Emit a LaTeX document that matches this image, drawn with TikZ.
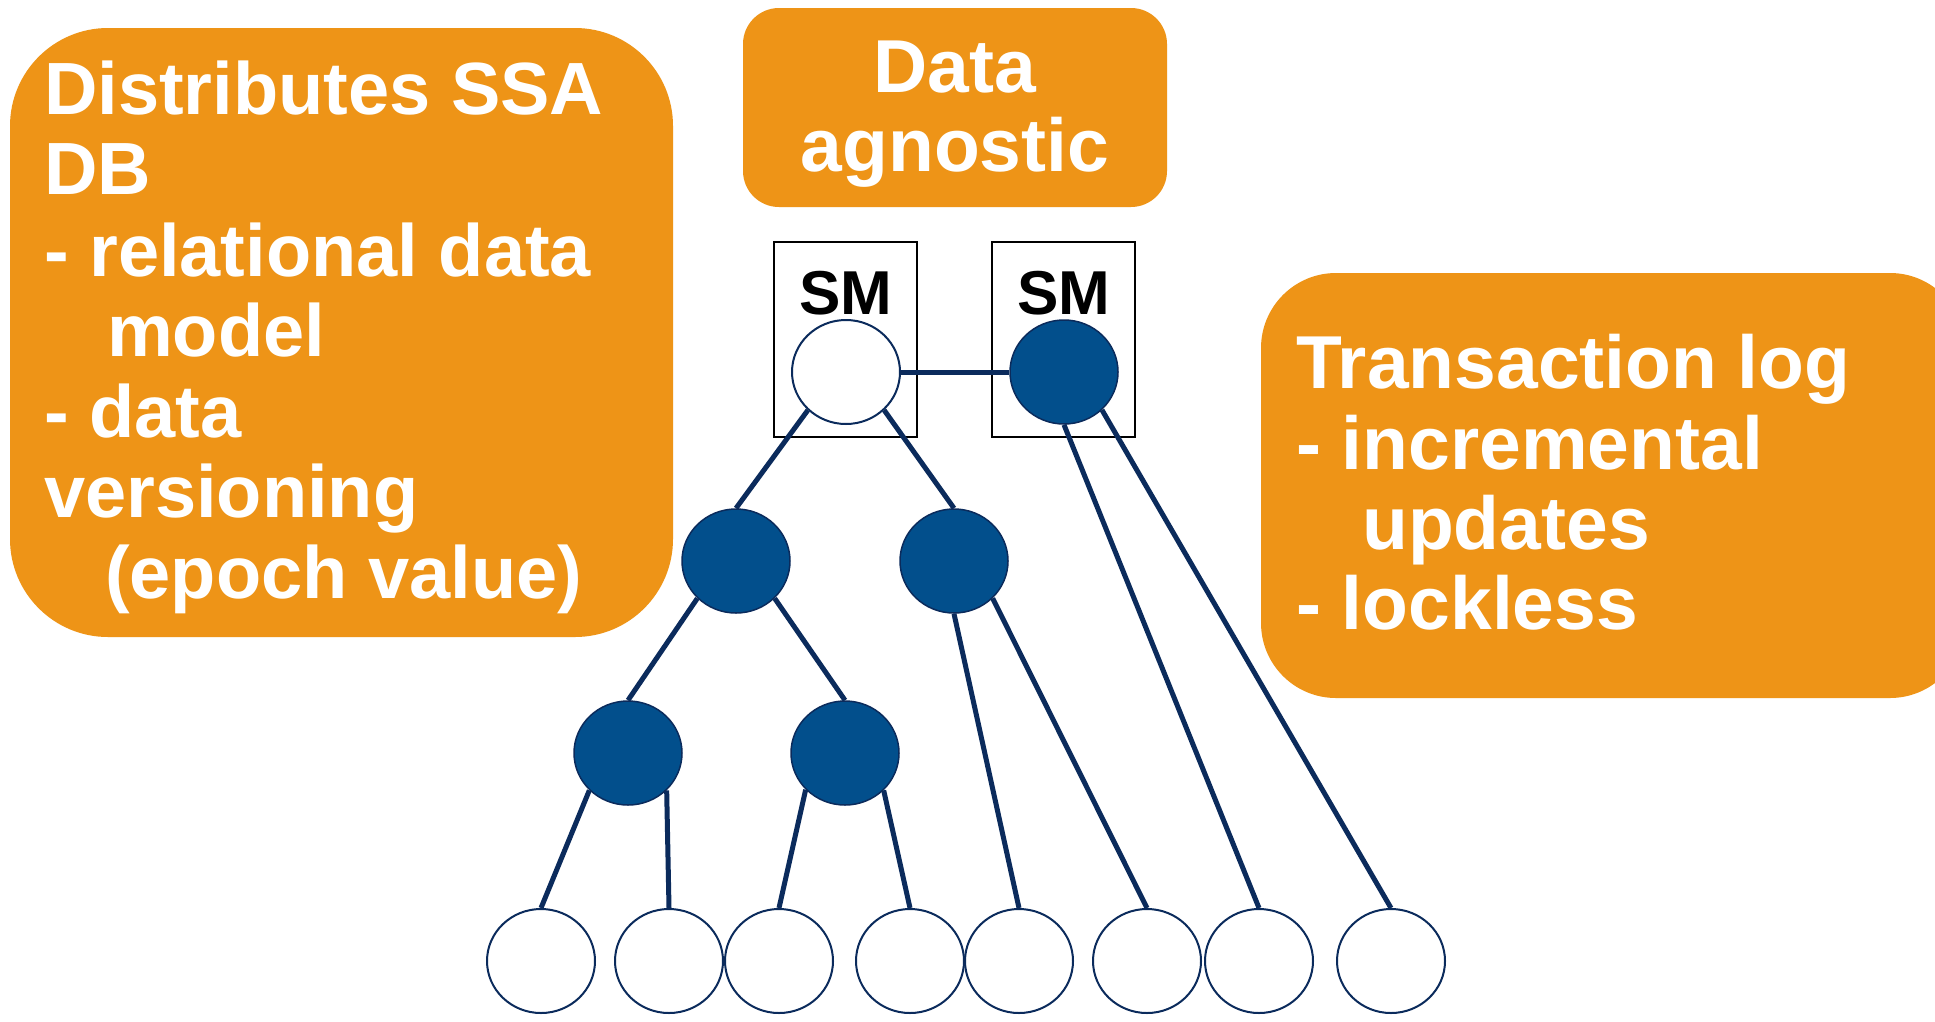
\documentclass[tikz,border=0pt]{standalone}
\usepackage{fontspec}
\setmainfont{Liberation Sans}
\usetikzlibrary{shapes.geometric}
\definecolor{boxorange}{RGB}{238,148,23}
\definecolor{nodeblue}{RGB}{2,79,140}
\definecolor{navy}{RGB}{11,43,92}
\tikzset{
  orangebox/.style={fill=boxorange, draw=none, inner sep=0pt},
  bigtxt/.style={text=white, font=\fontsize{74}{81}\selectfont\bfseries, inner sep=0pt, anchor=base west},
  midtxt/.style={text=white, font=\fontsize{75}{80}\selectfont\bfseries, inner sep=0pt, anchor=base},
  rtxt/.style={text=white, font=\fontsize{75}{80}\selectfont\bfseries, inner sep=0pt, anchor=base west},
  smtxt/.style={text=black, font=\fontsize{62}{62}\selectfont\bfseries, inner sep=0pt, anchor=base},
  smbox/.style={draw=black, line width=2pt, fill=white, minimum width=143pt, minimum height=195pt, inner sep=0pt},
  darknode/.style={ellipse, fill=nodeblue, draw=navy, line width=1.5pt, minimum width=108pt, minimum height=104pt, inner sep=0pt},
  lightnode/.style={ellipse, fill=white, draw=navy, line width=2pt, minimum width=108pt, minimum height=104pt, inner sep=0pt},
  edge/.style={draw=navy, line width=5pt}
}
\begin{document}
\begin{tikzpicture}[x=1pt,y=-1pt]
\clip (0,0) rectangle (1935,1021);
\fill[white] (0,0) rectangle (1935,1021);

% orange boxes
\node[orangebox, rounded corners=98pt, minimum width=663pt, minimum height=609pt] (leftbox) at (341.5,332.5) {};
\node[orangebox, rounded corners=36pt, minimum width=424pt, minimum height=199pt] (topbox) at (955,107.5) {};
\node[orangebox, rounded corners=75pt, minimum width=704pt, minimum height=425pt] (rightbox) at (1613,485.5) {};

% left box text
\node[bigtxt] (l1) at (44,114) {Distributes SSA};
\node[bigtxt] (l2) at (44,194) {DB};
\node[bigtxt] (l3) at (44,276) {- relational data};
\node[bigtxt] (l4) at (107,356) {model};
\node[bigtxt] (l5) at (44,437) {- data};
\node[bigtxt] (l6) at (44,517) {versioning};
\node[bigtxt] (l7) at (105,598) {(epoch value)};

% top box text
\node[midtxt] (t1) at (955,92) {Data};
\node[midtxt] (t2) at (955,171) {agnostic};

% right box text
\node[rtxt] (r1) at (1296,388) {Transaction log};
\node[rtxt] (r2) at (1296,469) {- incremental};
\node[rtxt] (r3) at (1362,549) {updates};
\node[rtxt] (r4) at (1296,629) {- lockless};

% SM boxes
\node[smbox] (sm1) at (845.5,339.5) {};
\node[smbox] (sm2) at (1063.5,339.5) {};
\node[smtxt] (sm1t) at (846,314) {SM};
\node[smtxt] (sm2t) at (1064,314) {SM};

% tree nodes
\node[lightnode] (root) at (846,372) {};
\node[darknode] (peer) at (1064,372) {};
\node[darknode] (a) at (736,561) {};
\node[darknode] (b) at (954,561) {};
\node[darknode] (aa) at (628,753) {};
\node[darknode] (ab) at (845,753) {};
\node[lightnode] (f1) at (541,961) {};
\node[lightnode] (f2) at (669,961) {};
\node[lightnode] (f3) at (779,961) {};
\node[lightnode] (f4) at (910,961) {};
\node[lightnode] (f5) at (1019,961) {};
\node[lightnode] (f6) at (1147,961) {};
\node[lightnode] (f7) at (1259,961) {};
\node[lightnode] (f8) at (1391,961) {};

% edges
\draw[edge] (root.east) -- (peer.west);
\draw[edge] (root.225) -- (a.north);
\draw[edge] (root.315) -- (b.north);
\draw[edge] (a.224) -- (aa.north);
\draw[edge] (a.316) -- (ab.north);
\draw[edge] (aa.224) -- (f1.north);
\draw[edge] (aa.316) -- (f2.north);
\draw[edge] (ab.223) -- (f3.north);
\draw[edge] (ab.316) -- (f4.north);
\draw[edge] (b.south) -- (f5.north);
\draw[edge] (b.316) -- (f6.north);
\draw[edge] (peer.south) -- (f7.north);
\draw[edge] (peer.315) -- (f8.north);
\end{tikzpicture}
\end{document}
